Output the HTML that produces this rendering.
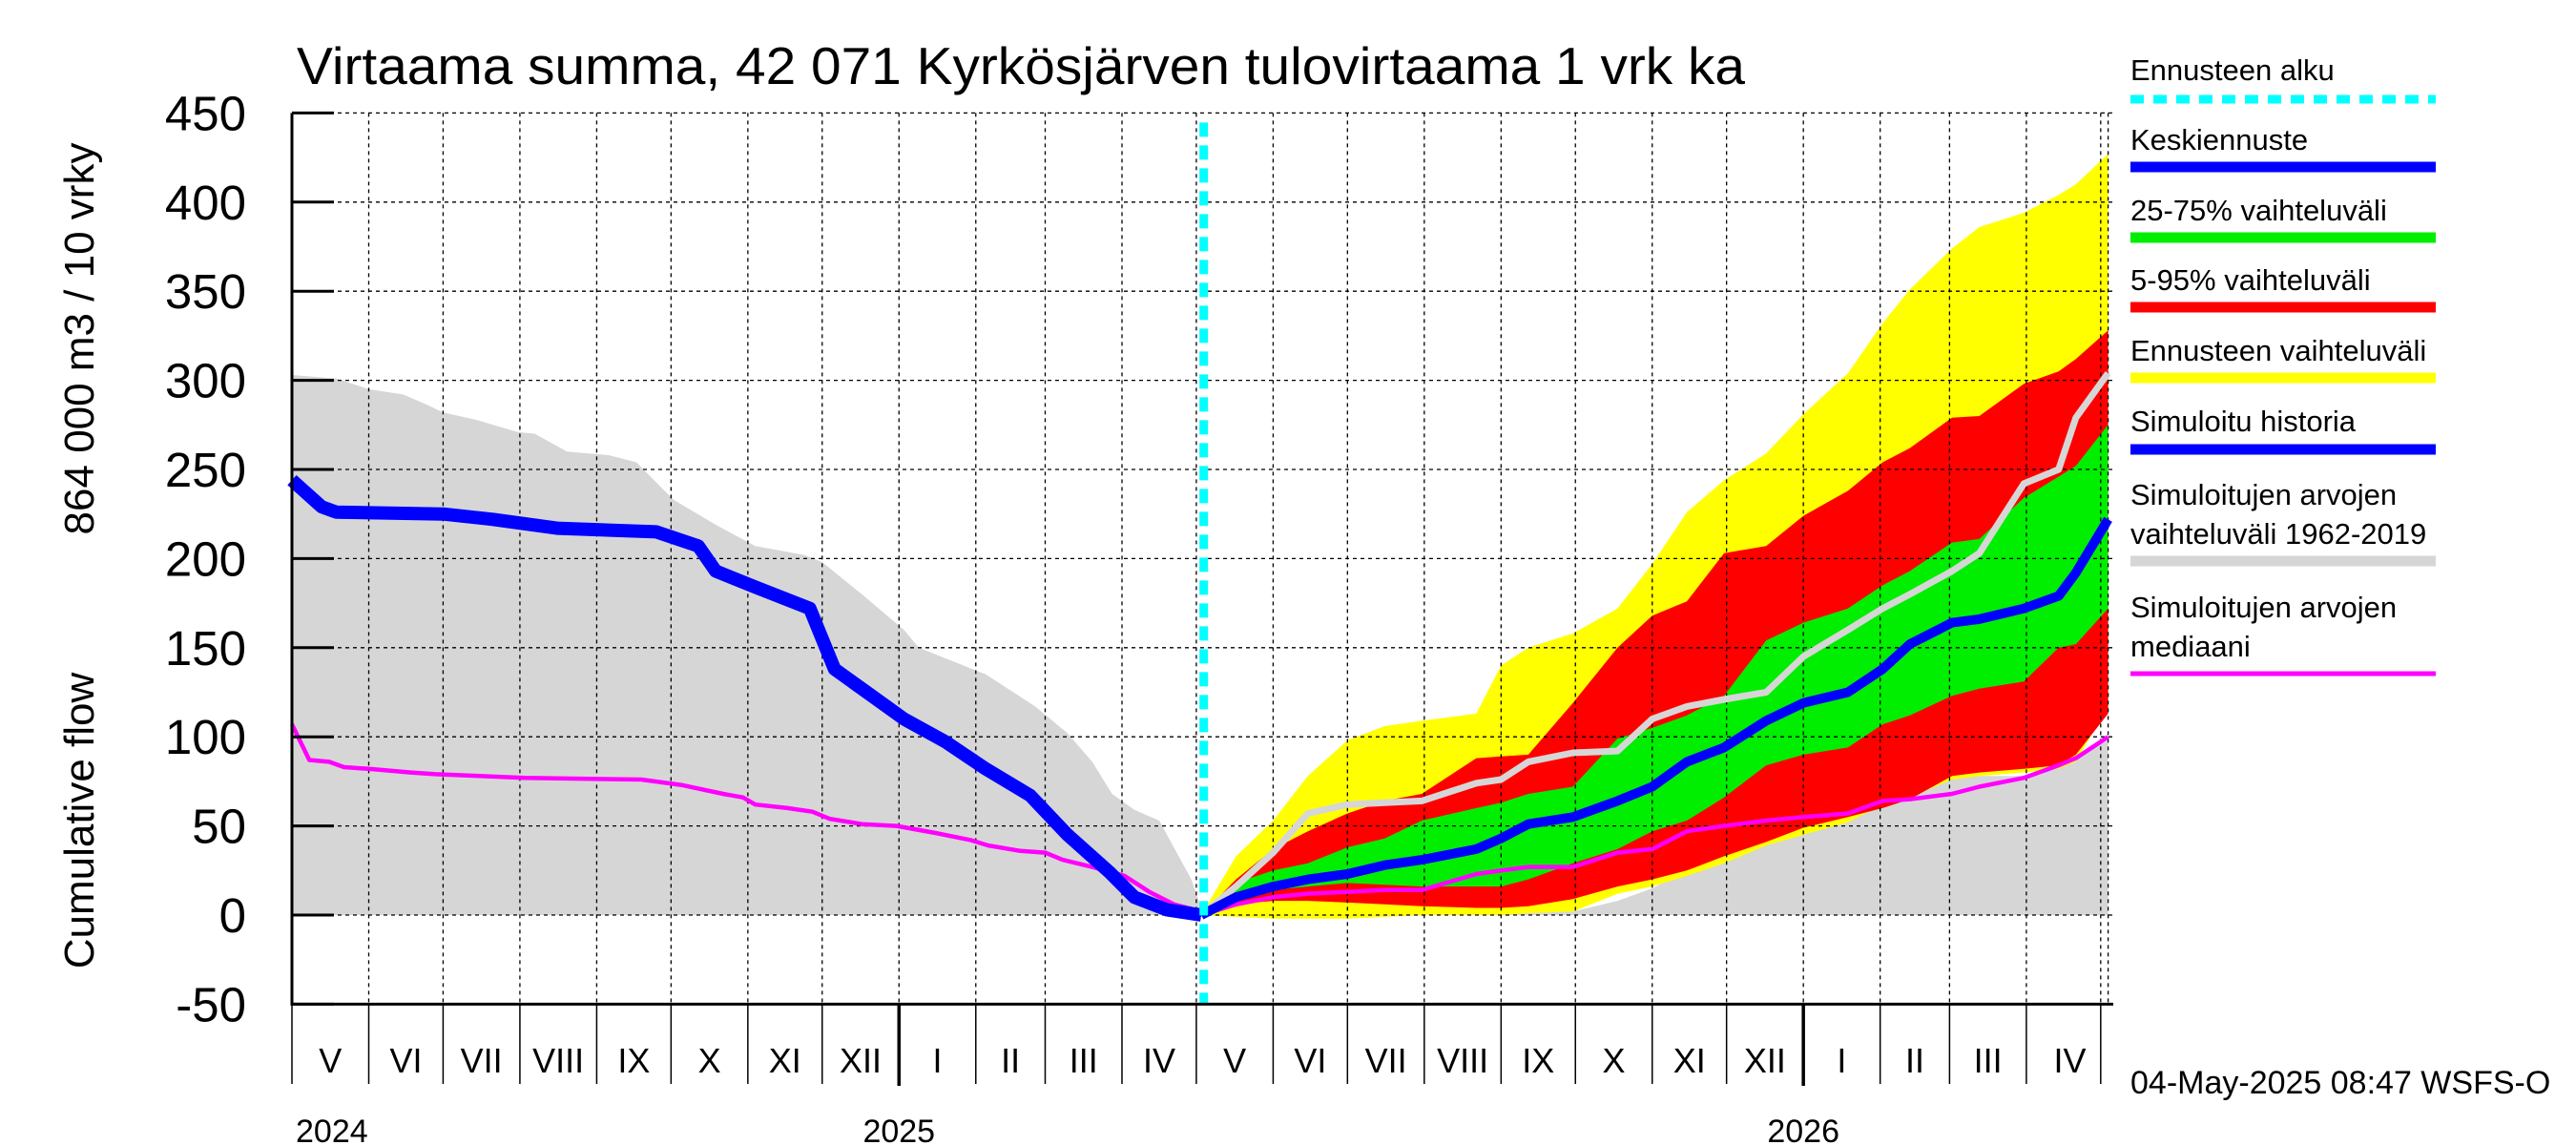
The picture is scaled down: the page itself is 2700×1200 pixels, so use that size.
<!DOCTYPE html>
<html><head><meta charset="utf-8"><style>
html,body{margin:0;padding:0;background:#fff;}
svg{display:block;font-family:"Liberation Sans",Arial,sans-serif;}
</style></head><body>
<svg id="chart" width="2700" height="1200" viewBox="0 0 2700 1200" xmlns="http://www.w3.org/2000/svg">
<rect width="2700" height="1200" fill="#fff"/>
<text x="311" y="88" font-size="55" textLength="1518" lengthAdjust="spacingAndGlyphs">Virtaama summa, 42 071 Kyrkösjärven tulovirtaama 1 vrk ka</text>
<text transform="translate(98,860) rotate(-90)" font-size="44" text-anchor="middle">Cumulative flow</text>
<text transform="translate(98,355) rotate(-90)" font-size="44" text-anchor="middle">864 000 m3 / 10 vrky</text>
<g id="fills"></g><g id="grid"></g><g id="lines"></g><g id="axes"></g><g id="legend"></g>
<text x="2233" y="1146" font-size="34">04-May-2025 08:47 WSFS-O</text>
</svg>
<script>
// ---- data ----
const yTicks = [-50,0,50,100,150,200,250,300,350,400,450];
const monthLabels = ["V","VI","VII","VIII","IX","X","XI","XII","I","II","III","IV","V","VI","VII","VIII","IX","X","XI","XII","I","II","III","IV"];
const yearLabels = ["2024","2025","2026"];
const forecastStartDay = 368;
const histBandDays = [0,18,31,45,55,61,74,91,98,111,128,139,154,171,187,207,214,230,247,253,280,300,313,323,331,340,350,363,367,381,396,450,480,517,535,549,563,595,642,670,699,713,733];
const histBandTop = [303,301,295,292,286,282,278,271,270,260,258,254,233,219,207,202,198,180,160,150,135,117,102,86,68,59,53,20,4,16,20,5,2,2,8,15,25,41,64,78,78,84,98];
const histBlueDays = [0,12,18,61,81,107,147,164,171,187,209,219,234,247,264,280,298,313,330,340,353,367];
const histBlueVals = [244,229,226,225,222,217,215,207,193,184,172,138,123,110,97,82,67,45,24,10,3,0];
const histMagDays = [0,7,15,21,31,48,58,94,141,157,174,182,187,200,210,217,230,244,260,274,281,294,304,311,323,336,346,356,367];
const histMagVals = [107,87,86,83,82,80,79,77,76,73,68,66,62,60,58,54,51,50,46,42,39,36,35,31,27,22,13,6,2];
const fcDays = [367,381,396,410,426,441,456,478,488,499,517,535,549,563,578,595,610,628,642,653,670,681,699,713,720,733];
const yellowTop = [0,33,53,78,98,106,109,113,140,150,158,172,197,226,244,259,281,304,332,351,374,386,394,404,410,427];
const yellowBot = [0,-1,-2,-2,-2,-1,0,0,0,1,2,12,16,22,29,39,45,52,62,66,76,78,80,82,86,117];
const redTop = [0,20,37,47,57,64,68,88,89,90,119,150,168,176,203,207,224,238,254,262,279,280,298,305,312,328];
const redBot = [0,6,8,8,7,6,5,4,4,5,9,16,20,25,33,41,49,55,60,65,78,80,82,84,90,113];
const greenTop = [0,18,25,29,38,43,53,60,63,68,72,99,105,112,123,154,164,172,185,193,209,211,234,246,252,275];
const greenBot = [0,12,14,16,18,17,16,16,16,20,29,37,47,53,66,84,90,94,107,112,123,127,131,150,152,172];
const blueFc = [0,10,16,20,23,28,31,37,43,51,55,64,72,86,94,109,119,125,138,152,164,166,172,179,192,222];
const grayLine = [0,16,35,57,62,63,64,74,76,86,91,92,110,117,121,125,145,160,172,180,193,203,242,250,279,304];
const magentaFc = [0,6,10,12,13,14,14,23,25,27,27,35,37,47,50,53,55,57,64,65,68,72,77,84,88,100];

// ---- scales ----
const X0=306, X1=2215, PXD=2.597;
const x = d => X0 + d*PXD;
const y = v => 959 - v*1.868;
const NS="http://www.w3.org/2000/svg";
function mk(tag, parent){const e=document.createElementNS(NS,tag);document.getElementById(parent).appendChild(e);return e;}
function pts(days, vals){return days.map((d,i)=>x(d).toFixed(1)+","+y(vals[i]).toFixed(1));}
function band(days, top, botDays, bot, color, name){
  const p=mk("polygon","fills");
  const b=pts(botDays,bot).reverse();
  p.setAttribute("points", pts(days,top).concat(b).join(" "));
  p.setAttribute("fill",color);
  
  
}
function line(days, vals, color, w, name){
  const p=mk("polyline","lines");
  p.setAttribute("points", pts(days,vals).join(" "));
  p.setAttribute("fill","none");p.setAttribute("stroke",color);p.setAttribute("stroke-width",w);
  p.setAttribute("stroke-linejoin","round");
  
  
}
band(histBandDays, histBandTop, [0,733], [0,0], "#d6d6d6", "simulated-range-band");
band(fcDays, yellowTop, fcDays, yellowBot, "#ffff00", "forecast-range-band");
band(fcDays, redTop, fcDays, redBot, "#ff0000", "range-5-95-band");
band(fcDays, greenTop, fcDays, greenBot, "#00ee00", "range-25-75-band");

// grid
const start = new Date(2024,4,1);
const dayOf = dt => Math.round((dt - start)/86400000);
const bounds=[];
for(let i=0;i<=24;i++){bounds.push(dayOf(new Date(2024,4+i,1)));}
for(const v of yTicks){
  const l=mk("line","grid");
  l.setAttribute("x1",X0);l.setAttribute("x2",X1);l.setAttribute("y1",y(v));l.setAttribute("y2",y(v));
  l.setAttribute("stroke","#000");l.setAttribute("stroke-width","1.3");l.setAttribute("stroke-dasharray","4,4");
  
  
  const t=mk("line","axes");
  t.setAttribute("x1",X0);t.setAttribute("x2",X0+44);t.setAttribute("y1",y(v));t.setAttribute("y2",y(v));
  t.setAttribute("stroke","#000");t.setAttribute("stroke-width","3");
  
  
  const tx=mk("text","axes");
  tx.setAttribute("x",258);tx.setAttribute("y",y(v)+18);tx.setAttribute("font-size","51");tx.setAttribute("text-anchor","end");
  tx.textContent=v;
  
  
}
bounds.concat([733]).forEach((d,i)=>{
  if(i===0) return;
  const l=mk("line","grid");
  l.setAttribute("x1",x(d));l.setAttribute("x2",x(d));l.setAttribute("y1",y(450));l.setAttribute("y2",y(-50));
  l.setAttribute("stroke","#000");l.setAttribute("stroke-width","1.3");l.setAttribute("stroke-dasharray","4,4");
  
  
});
bounds.forEach((d,i)=>{
  const yearTick = (i===8||i===20);
  const t=mk("line","axes");
  t.setAttribute("x1",x(d));t.setAttribute("x2",x(d));t.setAttribute("y1",y(-50));t.setAttribute("y2",yearTick?1138:1136);
  t.setAttribute("stroke","#000");t.setAttribute("stroke-width",yearTick?"3.5":"1.5");
  
  
  if(i<24){
    const tx=mk("text","axes");
    const c = i<23 ? (x(d)+x(bounds[i+1]))/2 : (x(d)+X1)/2;
    tx.setAttribute("x",c);tx.setAttribute("y",1124);tx.setAttribute("font-size","36");tx.setAttribute("text-anchor","middle");
    tx.textContent=monthLabels[i];
    
    
  }
});
[[0,"start"],[8,"middle"],[20,"middle"]].forEach((p,k)=>{
  const tx=mk("text","axes");
  const d=bounds[p[0]];
  tx.setAttribute("x",k===0?x(d)+4:x(d));tx.setAttribute("y",1197);tx.setAttribute("font-size","34");tx.setAttribute("text-anchor",p[1]);
  tx.textContent=yearLabels[k];
  
  
});
// axis lines
const ax=mk("path","axes");
ax.setAttribute("d",`M${X0},${y(450)} V${y(-50)} H${X1}`);
ax.setAttribute("fill","none");ax.setAttribute("stroke","#000");ax.setAttribute("stroke-width","3");



// lines
line(fcDays, grayLine, "#d6d6d6", 7, "simulated-year-line");
line(histMagDays, histMagVals, "#ff00ff", 4.5, "median-history-line");
line(fcDays, magentaFc, "#ff00ff", 4.5, "median-forecast-line");
line(histBlueDays, histBlueVals, "#0000ff", 14, "simulated-history-line");
line(fcDays, blueFc, "#0000ff", 10, "mean-forecast-line");
const cy=mk("line","lines");
cy.setAttribute("x1",x(forecastStartDay));cy.setAttribute("x2",x(forecastStartDay));
cy.setAttribute("y1",y(450)+10);cy.setAttribute("y2",y(-50));
cy.setAttribute("stroke","#00ffff");cy.setAttribute("stroke-width","9");cy.setAttribute("stroke-dasharray","15,9");



// legend
const legendText=[["Ennusteen alku"],["Keskiennuste"],["25-75% vaihteluväli"],["5-95% vaihteluväli"],["Ennusteen vaihteluväli"],["Simuloitu historia"],["Simuloitujen arvojen","vaihteluväli 1962-2019"],["Simuloitujen arvojen","mediaani"]];
const legendColor=["#00ffff","#0000ff","#00ee00","#ff0000","#ffff00","#0000ff","#d6d6d6","#ff00ff"];
const legendLineY=[104,175,249,322,396,471,588,706];
const legendTextY=[84,157,231,304,378,452,529,647];
legendText.forEach((lines,i)=>{
  lines.forEach((s,j)=>{
    const t=mk("text","legend");
    t.setAttribute("x",2233);t.setAttribute("y",legendTextY[i]+j*41);t.setAttribute("font-size","31");
    t.textContent=s;
    
    
  });
  const l=mk("line","legend");
  l.setAttribute("x1",2233);l.setAttribute("x2",2553);l.setAttribute("y1",legendLineY[i]);l.setAttribute("y2",legendLineY[i]);
  l.setAttribute("stroke",legendColor[i]);l.setAttribute("stroke-width",i===7?5:(i===0?9:11));
  if(i===0) l.setAttribute("stroke-dasharray","14,10");
  
  
});
</script>
</body></html>
